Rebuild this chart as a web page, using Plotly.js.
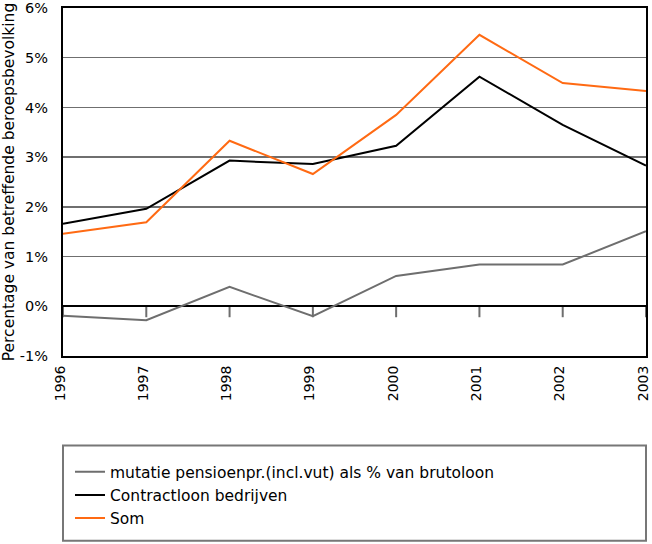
<!DOCTYPE html>
<html>
<head>
<meta charset="utf-8">
<script src="https://cdn.plot.ly/plotly-3.0.1.min.js"></script>
<style>
  html, body { margin: 0; padding: 0; background: #fff; }
  #chart { width: 652px; height: 544px; }
</style>
</head>
<body>
<div id="chart"></div>
<script>
// Data (percent)
const years = [1996, 1997, 1998, 1999, 2000, 2001, 2002, 2003];
const pensioen = [-0.19, -0.28, 0.39, -0.20, 0.61, 0.84, 0.84, 1.51];
const contractloon = [1.66, 1.96, 2.93, 2.86, 3.23, 4.62, 3.65, 2.83];
const som = [1.46, 1.69, 3.33, 2.66, 3.85, 5.46, 4.49, 4.33];
const seriesNames = [
  'mutatie pensioenpr.(incl.vut) als % van brutoloon',
  'Contractloon bedrijven',
  'Som'
];
const yTickVals = [-1, 0, 1, 2, 3, 4, 5, 6];
const yTickText = ['-1%', '0%', '1%', '2%', '3%', '4%', '5%', '6%'];

const FONT = 'DejaVu Sans, Liberation Sans, Arial, sans-serif';
const colors = ['#6e6e6e', '#000000', '#ff6a13'];

const traces = [pensioen, contractloon, som].map((vals, i) => ({
  type: 'scatter',
  mode: 'lines',
  x: years,
  y: vals,
  name: seriesNames[i],
  line: { color: colors[i], width: 2 },
  hoverinfo: 'skip'
}));

// little tick marks hanging from the zero line at every year
const zeroTicks = years.map(yr => ({
  type: 'line', xref: 'x', yref: 'y',
  x0: yr, x1: yr, y0: 0, y1: -0.22,
  line: { color: '#6e6e6e', width: 2 },
  layer: 'below'
}));

const layout = {
  width: 652,
  height: 544,
  margin: { l: 63, r: 6, t: 8, b: 188 },
  paper_bgcolor: '#ffffff',
  plot_bgcolor: '#ffffff',
  font: { family: FONT, size: 15, color: '#000' },
  showlegend: true,
  xaxis: {
    type: 'linear',
    range: [1996, 2003],
    tickvals: years,
    ticktext: years.map(String),
    tickangle: -90,
    ticks: 'outside',
    ticklen: 2,
    tickcolor: 'rgba(0,0,0,0)',
    ticklabeloverflow: 'allow',
    ticklabelshift: -3,
    showgrid: false,
    zeroline: false,
    showline: true,
    mirror: true,
    linecolor: '#000',
    linewidth: 2,
    tickfont: { family: FONT, size: 14, color: '#000' },
    fixedrange: true
  },
  yaxis: {
    range: [-1, 6],
    tickvals: yTickVals,
    ticktext: yTickText,
    ticks: 'outside',
    ticklen: 10,
    tickcolor: 'rgba(0,0,0,0)',
    ticklabeloverflow: 'allow',
    showgrid: true,
    gridcolor: '#6f6f6f',
    gridwidth: 1.5,
    zeroline: true,
    zerolinecolor: '#000',
    zerolinewidth: 2,
    showline: true,
    mirror: true,
    linecolor: '#000',
    linewidth: 2,
    tickfont: { family: FONT, size: 14.5, color: '#000' },
    title: { text: 'Percentage van betreffende beroepsbevolking', font: { family: FONT, size: 15.5, color: '#000' }, standoff: 6 },
    fixedrange: true
  },
  legend: {
    x: 0.012, xanchor: 'left',
    y: -0.285, yanchor: 'top',
    orientation: 'v',
    bgcolor: 'rgba(0,0,0,0)',
    borderwidth: 0,
    font: { family: FONT, size: 15.5, color: '#000' },
    traceorder: 'normal'
  },
  shapes: zeroTicks.concat([{
    type: 'rect', xref: 'paper', yref: 'paper',
    x0: 0, x1: 1, y0: -0.531, y1: -0.257,
    line: { color: '#777777', width: 2 },
    fillcolor: 'rgba(0,0,0,0)'
  }])
};

Plotly.newPlot('chart', traces, layout, { displayModeBar: false, staticPlot: true });
</script>
</body>
</html>
